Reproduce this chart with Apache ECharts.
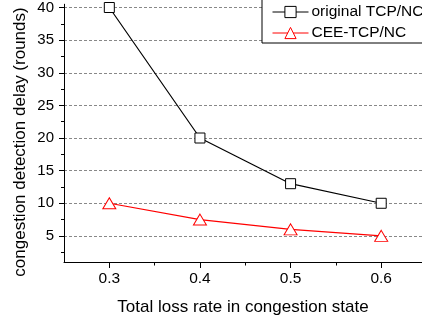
<!DOCTYPE html>
<html>
<head>
<meta charset="utf-8">
<script src="https://cdn.jsdelivr.net/npm/echarts@6/dist/echarts.min.js"></script>
<style>
  html, body { margin: 0; padding: 0; background: #fff; }
  #chart { width: 422px; height: 321px; }
</style>
</head>
<body>
<div id="chart"></div>
<script>
// loss rate on x, delay in rounds on y
var lossRates = [0.3, 0.4, 0.5, 0.6];
var originalDelay = [40, 20, 13, 10];
var ceeDelay = [10, 7.5, 6, 5];
var xMajor = [0.3, 0.4, 0.5, 0.6];
var xMinor = [0.35, 0.45, 0.55];
var yMajor = [5, 10, 15, 20, 25, 30, 35, 40];
var yMinor = [2.5, 7.5, 12.5, 17.5, 22.5, 27.5, 32.5, 37.5];

var font = 'Liberation Sans, Arial, sans-serif';

function pairs(xs, ys) {
    var out = [];
    for (var i = 0; i < xs.length; i++) {
        out.push([xs[i], ys[i]]);
    }
    return out;
}

var myChart = echarts.init(document.getElementById('chart'), null, {renderer: 'canvas'});
var option = {
    animation: false,
    grid: {
        left: 64,
        right: 0,
        top: 0,
        bottom: 59,
        containLabel: false
    },
    legend: {
        orient: 'vertical',
        left: 262,
        top: -4,
        padding: [8, 40, 2, 10],
        itemWidth: 36,
        itemHeight: 14,
        itemGap: 5,
        backgroundColor: '#fff',
        borderColor: '#000',
        borderWidth: 1,
        borderRadius: 0,
        itemStyle: { borderWidth: 1 },
        lineStyle: { width: 1 },
        textStyle: { fontFamily: font, fontSize: 15.5, color: '#000', padding: [0, 0, 0, -2] },
        data: ['original TCP/NC', 'CEE-TCP/NC']
    },
    xAxis: [{
        type: 'value',
        min: 0.25,
        max: 0.645,
        interval: 0.05,
        name: 'Total loss rate in congestion state',
        nameLocation: 'middle',
        nameGap: 37,
        nameTextStyle: { fontFamily: font, fontSize: 17, color: '#000' },
        axisLine: { onZero: false, lineStyle: { color: '#000', width: 1 } },
        axisTick: { inside: false, length: 6, customValues: xMajor, lineStyle: { color: '#000' } },
        axisLabel: {
            customValues: xMajor,
            margin: 9,
            fontFamily: font,
            fontSize: 15.5,
            color: '#000',
            formatter: function (v) { return v.toFixed(1); }
        },
        splitLine: { show: false }
    }, {
        type: 'value',
        position: 'bottom',
        min: 0.25,
        max: 0.645,
        interval: 0.05,
        axisLine: { show: false },
        axisTick: { length: 3.5, customValues: xMinor, lineStyle: { color: '#000' } },
        axisLabel: { show: false },
        splitLine: { show: false }
    }],
    yAxis: [{
        type: 'value',
        min: 1,
        max: 40.5,
        axisLine: { show: true, lineStyle: { color: '#000', width: 1 } },
        axisTick: { length: 5, customValues: yMajor, lineStyle: { color: '#000' } },
        axisLabel: {
            customValues: yMajor,
            margin: 10,
            fontFamily: font,
            fontSize: 15,
            color: '#000'
        },
        splitLine: { show: true, lineStyle: { color: '#888', type: [3, 2], width: 1 } }
    }, {
        type: 'value',
        position: 'left',
        min: 1,
        max: 40.5,
        axisLine: { show: false },
        axisTick: { show: true, length: 3, customValues: yMinor, lineStyle: { color: '#000' } },
        axisLabel: { show: false },
        splitLine: { show: false }
    }],
    graphic: [{
        type: 'text',
        x: 20,
        y: 142,
        rotation: Math.PI / 2,
        style: {
            text: 'congestion detection delay (rounds)',
            fontFamily: font,
            fontSize: 17,
            fill: '#000',
            align: 'center',
            verticalAlign: 'middle'
        }
    }],
    series: [{
        name: 'original TCP/NC',
        type: 'line',
        data: pairs(lossRates, originalDelay),
        symbol: 'rect',
        symbolSize: 10,
        itemStyle: { color: '#fff', borderColor: '#000', borderWidth: 1 },
        lineStyle: { color: '#000', width: 1.2 },
        z: 3
    }, {
        name: 'CEE-TCP/NC',
        type: 'line',
        data: pairs(lossRates, ceeDelay),
        symbol: 'triangle',
        symbolSize: [13, 11],
        itemStyle: { color: '#fff', borderColor: '#f00', borderWidth: 1 },
        lineStyle: { color: '#f00', width: 1.2 },
        z: 3
    }]
};
myChart.setOption(option);
</script>
</body>
</html>
